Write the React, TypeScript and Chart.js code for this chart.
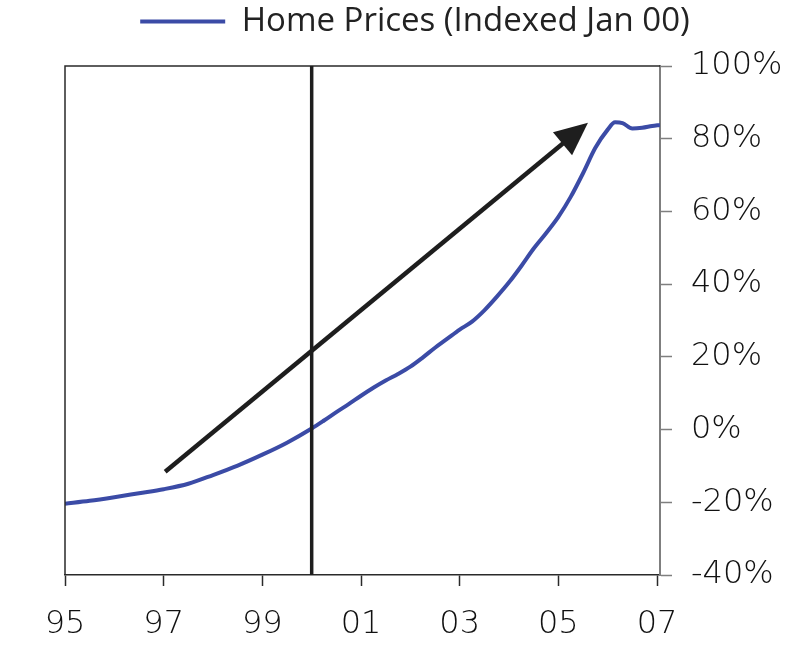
import React, { useEffect, useRef } from "react";
import { Chart, registerables } from "chart.js";

Chart.register(...registerables);

const years = [
  1995.0, 1995.5, 1996.0, 1996.5, 1997.0, 1997.5, 1998.0, 1998.5, 1999.0, 1999.5,
  2000.0, 2000.25, 2000.5, 2000.75, 2001.0, 2001.25, 2001.5, 2001.75, 2002.0, 2002.25,
  2002.5, 2002.75, 2003.0, 2003.25, 2003.5, 2003.75, 2004.0, 2004.25, 2004.5, 2004.75,
  2005.0, 2005.25, 2005.5, 2005.75, 2006.0, 2006.15, 2006.3, 2006.5, 2006.7, 2006.9, 2007.06,
];
const homePrices = [
  -20.4, -19.6, -18.6, -17.5, -16.4, -14.9, -12.5, -9.9, -6.9, -3.6,
  0.3, 2.5, 4.8, 7.0, 9.3, 11.5, 13.5, 15.3, 17.3, 19.8,
  22.5, 25.0, 27.5, 29.7, 32.8, 36.5, 40.5, 45.0, 49.8, 54.0,
  58.5, 64.0, 70.5, 77.5, 82.5, 84.5, 84.3, 82.8, 83.0, 83.5, 83.8,
];
const xTickYears = [1995, 1997, 1999, 2001, 2003, 2005, 2007];
const yTickValues = [-40, -20, 0, 20, 40, 60, 80, 100];
const markerYear = [2000];
const arrowStart = [1997.03, -11.6];
const arrowEnd = [2005.6, 84.4];
const seriesLabel = "Home Prices (Indexed Jan 00)";

const BLUE = "#3B4BA6";
const INK = "#1e1e1e";
const TICK_FONT = { family: "'DejaVu Sans'", size: 32, weight: 200 };

const overlay = {
  id: "overlay",
  afterDatasetsDraw(chart: any) {
    const { ctx, chartArea: a, scales } = chart;
    const x = scales.x;
    const y = scales.y;
    ctx.save();
    ctx.strokeStyle = "#2a2a2a";
    ctx.lineWidth = 1.5;
    ctx.beginPath();
    ctx.moveTo(a.left, a.bottom);
    ctx.lineTo(a.left, a.top);
    ctx.lineTo(a.right, a.top);
    ctx.stroke();
    const vx = x.getPixelForValue(markerYear[0]);
    ctx.strokeStyle = INK;
    ctx.lineWidth = 3.5;
    ctx.beginPath();
    ctx.moveTo(vx, a.top);
    ctx.lineTo(vx, a.bottom);
    ctx.stroke();
    const x1 = x.getPixelForValue(arrowStart[0]);
    const y1 = y.getPixelForValue(arrowStart[1]);
    const x2 = x.getPixelForValue(arrowEnd[0]);
    const y2 = y.getPixelForValue(arrowEnd[1]);
    const ang = Math.atan2(y2 - y1, x2 - x1);
    const headLen = 33;
    const headHalf = 15;
    const bx = x2 - headLen * Math.cos(ang);
    const by = y2 - headLen * Math.sin(ang);
    ctx.lineWidth = 4.5;
    ctx.beginPath();
    ctx.moveTo(x1, y1);
    ctx.lineTo(bx + 4 * Math.cos(ang), by + 4 * Math.sin(ang));
    ctx.stroke();
    ctx.fillStyle = INK;
    ctx.beginPath();
    ctx.moveTo(x2, y2);
    ctx.lineTo(bx + headHalf * Math.sin(ang), by - headHalf * Math.cos(ang));
    ctx.lineTo(bx - headHalf * Math.sin(ang), by + headHalf * Math.cos(ang));
    ctx.closePath();
    ctx.fill();
    ctx.restore();
  },
};

const legendTweak = {
  id: "legendTweak",
  beforeInit(chart: any) {
    const legend = chart.legend;
    const origFit = legend.fit;
    legend.fit = function () {
      origFit.bind(legend)();
      this.height = 66;
    };
    const origDraw = legend.draw;
    legend.draw = function (...args: any[]) {
      const ctx = chart.ctx;
      ctx.save();
      ctx.translate(-22, 0);
      origDraw.apply(legend, args);
      ctx.restore();
    };
  },
};

export default function App() {
  const ref = useRef<HTMLCanvasElement>(null);
  useEffect(() => {
    if (!ref.current) return;
    const chart = new Chart(ref.current, {
      type: "line",
      data: {
        datasets: [
          {
            label: seriesLabel,
            data: years.map((yr, i) => ({ x: yr, y: homePrices[i] })),
            borderColor: BLUE,
            backgroundColor: BLUE,
            borderWidth: 4,
            pointRadius: 0,
            cubicInterpolationMode: "monotone",
            fill: false,
          },
        ],
      },
      options: {
        animation: false,
        responsive: false,
        layout: { padding: { left: 65, right: 0, top: 0, bottom: 0 } },
        plugins: {
          tooltip: { enabled: false },
          legend: {
            display: true,
            position: "top",
            labels: {
              usePointStyle: true,
              pointStyle: "line",
              pointStyleWidth: 85,
              boxHeight: 33,
              padding: 5,
              color: "#222",
              font: { family: "'Open Sans'", size: 33, weight: "normal" },
            },
          },
        },
        scales: {
          x: {
            type: "linear",
            min: 1995,
            max: 2007.06,
            afterFit(scale: any) {
              scale.height = 73;
            },
            afterBuildTicks(scale: any) {
              scale.ticks = xTickYears.map((v) => ({ value: v }));
            },
            border: { display: true, color: "#2a2a2a", width: 1.5 },
            grid: {
              drawOnChartArea: false,
              drawTicks: true,
              tickLength: 11,
              tickColor: "#2a2a2a",
              tickWidth: 1.5,
            },
            ticks: {
              padding: 19,
              maxRotation: 0,
              autoSkip: false,
              color: "#111",
              font: TICK_FONT,
              callback: (v: any) => String(Number(v) % 100).padStart(2, "0"),
            },
          },
          y: {
            type: "linear",
            position: "right",
            min: -40,
            max: 100,
            afterFit(scale: any) {
              scale.width = 149;
            },
            afterBuildTicks(scale: any) {
              scale.ticks = yTickValues.map((v) => ({ value: v }));
            },
            border: { display: true, color: "#7f7f7f", width: 2 },
            grid: {
              drawOnChartArea: false,
              drawTicks: true,
              tickLength: 12,
              tickColor: "#7f7f7f",
              tickWidth: 1.5,
            },
            ticks: {
              padding: 19,
              color: "#111",
              font: TICK_FONT,
              callback: (v: any) => `${v}%`,
            },
          },
        },
      },
      plugins: [overlay, legendTweak],
    } as any);
    return () => chart.destroy();
  }, []);
  return (
    <div style={{ position: "absolute", left: 0, top: 0, width: 809, height: 648 }}>
      <canvas ref={ref} width={809} height={648} style={{ display: "block" }} />
    </div>
  );
}
